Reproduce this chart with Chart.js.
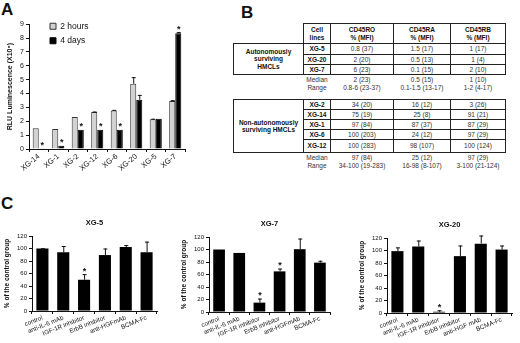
<!DOCTYPE html>
<html>
<head>
<meta charset="utf-8">
<script src="https://cdn.jsdelivr.net/npm/chart.js@4.4.1/dist/chart.umd.min.js"></script>
<style>
  body { margin: 0; background: #fff; font-family: 'Liberation Sans', Arial, sans-serif; }
  #wrap { position: relative; width: 520px; height: 343px; overflow: hidden; }
  canvas { position: absolute; }
  .plabel { position: absolute; font-weight: bold; font-size: 17px; color: #111; }
  .cell { position: absolute; box-sizing: border-box; display: flex; align-items: center; justify-content: center;
          text-align: center; font-size: 6.5px; line-height: 7.5px; color: #333; }
  .bd { border: 1px solid #222; }
  .b { font-weight: bold; color: #111; }
</style>
</head>
<body>
<div id="wrap">
  <div class="plabel" style="left:1px;top:0px">A</div>
  <div class="plabel" style="left:241px;top:3px">B</div>
  <div class="plabel" style="left:1px;top:194px">C</div>
  <canvas id="chartA" width="190" height="168" style="left:0;top:18px"></canvas>
  <canvas id="chartC1" width="160" height="129" style="left:0;top:214px"></canvas>
  <canvas id="chartC2" width="156" height="129" style="left:177px;top:215px"></canvas>
  <canvas id="chartC3" width="160" height="129" style="left:355px;top:216px"></canvas>
  <div id="table"></div>
</div>
<script>
// Panel A data
const catsA = ['XG-14', 'XG-1', 'XG-2', 'XG-12', 'XG-6', 'XG-20', 'XG-5', 'XG-7'];
const hours2 = [1.5, 1.44, 2.3, 2.66, 2.78, 4.7, 2.15, 3.47];
const hours2Err = [0, 0, 0, 0.04, 0.04, 0.48, 0.03, 0.05];
const days4 = [0.01, 0.24, 1.39, 1.39, 1.39, 3.55, 2.18, 8.35];
const days4Err = [0, 0, 0, 0, 0, 0.35, 0, 0.08];
const days4Stars = [1, 1, 1, 1, 1, 0, 0, 1];

// Panel B data
const headCols = ['Cell\nlines', 'CD45RO\n% (MFI)', 'CD45RA\n% (MFI)', 'CD45RB\n% (MFI)'];
const autoGroup = 'Autonomously\nsurviving\nHMCLs';
const autoLines = ['XG-5', 'XG-20', 'XG-7'];
const autoRO = ['0.8 (37)', '2 (20)', '6 (23)'];
const autoRA = ['1.5 (17)', '0.5 (13)', '0.1 (15)'];
const autoRB = ['1 (17)', '1 (4)', '2 (10)'];
const autoMedian = ['2 (23)', '0.5 (15)', '1 (10)'];
const autoRange = ['0.8-6 (23-37)', '0.1-1.5 (13-17)', '1-2 (4-17)'];
const nonGroup = 'Non-autonomously\nsurviving HMCLs';
const nonLines = ['XG-2', 'XG-14', 'XG-1', 'XG-6', 'XG-12'];
const nonRO = ['34 (20)', '75 (19)', '97 (84)', '100 (203)', '100 (283)'];
const nonRA = ['16 (12)', '25 (8)', '87 (37)', '24 (12)', '98 (107)'];
const nonRB = ['3 (26)', '91 (21)', '87 (29)', '97 (29)', '100 (124)'];
const nonMedian = ['97 (84)', '25 (12)', '97 (29)'];
const nonRange = ['34-100 (19-283)', '16-98 (8-107)', '3-100 (21-124)'];

// Panel C data
const treats = ['control', 'anti-IL-6 mAb', 'IGF-1R inhibitor', 'ErbB inhibitor', 'anti-HGFmAb', 'BCMA-Fc'];
const treats20 = ['control', 'anti-IL-6 mAb', 'IGF-1R inhibitor', 'ErbB inhibitor', 'anti-HGF mAb', 'BCMA-Fc'];
const yTicksC = [0, 20, 40, 60, 80, 100, 120];
const xg5Vals = [100, 94, 50, 89.5, 102.5, 94];
const xg5Err = [0.5, 10, 9, 10.5, 3, 17];
const xg5Stars = [0, 0, 1, 0, 0, 0];
const xg7Vals = [100, 94.5, 15, 65, 100.5, 79];
const xg7Err = [0, 0, 6.5, 4.5, 17, 3];
const xg7Stars = [0, 0, 1, 1, 0, 0];
const xg20Vals = [99, 106.5, 2, 91, 111, 101.5];
const xg20Err = [6, 9.5, 2.4, 17, 13, 6.5];
const xg20Stars = [0, 0, 1, 0, 0, 0];

const FONT = "'Liberation Sans', Arial, sans-serif";
Chart.defaults.font.family = FONT;
Chart.defaults.color = '#111';

// error bars (upward only) and significance stars
const errorBars = {
  id: 'errorBars',
  afterDatasetsDraw(chart) {
    const ctx = chart.ctx;
    const y = chart.scales.y;
    chart.data.datasets.forEach((ds, i) => {
      const meta = chart.getDatasetMeta(i);
      meta.data.forEach((bar, j) => {
        const v = ds.data[j];
        const e = ds.errors ? ds.errors[j] : 0;
        const yTop = y.getPixelForValue(v + e);
        ctx.save();
        ctx.strokeStyle = '#111';
        ctx.lineWidth = 1;
        if (e > 0) {
          ctx.beginPath();
          ctx.moveTo(bar.x + 0.5, y.getPixelForValue(v));
          ctx.lineTo(bar.x + 0.5, yTop);
          ctx.moveTo(bar.x - 1.5, yTop + 0.5);
          ctx.lineTo(bar.x + 2.5, yTop + 0.5);
          ctx.stroke();
        }
        if (ds.stars && ds.stars[j]) {
          ctx.fillStyle = '#111';
          ctx.font = 'bold 9px ' + FONT;
          ctx.textAlign = 'center';
          ctx.textBaseline = 'middle';
          ctx.fillText('*', bar.x + 0.5, yTop - 3);
        }
        ctx.restore();
      });
    });
  }
};

// nudge the in-chart legend to where the reference has it
const legendShift = {
  id: 'legendShift',
  afterUpdate(chart, args, opts) {
    const lg = chart.legend;
    if (!lg || !opts.dx) return;
    lg.left += opts.dx; lg.right += opts.dx;
    lg.top += opts.dy; lg.bottom += opts.dy;
    lg.adjustHitBoxes();
  }
};

function axisGrid() {
  return { display: true, drawOnChartArea: false, drawTicks: true, tickLength: 3, color: '#111', lineWidth: 1 };
}

// Panel A
new Chart(document.getElementById('chartA'), {
  type: 'bar',
  data: {
    labels: catsA,
    datasets: [
      { label: '2 hours', data: hours2, errors: hours2Err, backgroundColor: '#d2d2d2', borderColor: '#333', borderWidth: 1,
        categoryPercentage: 0.62, barPercentage: 1 },
      { label: '4 days', data: days4, errors: days4Err, stars: days4Stars, backgroundColor: '#000', borderColor: '#000', borderWidth: 1,
        categoryPercentage: 0.62, barPercentage: 1 }
    ]
  },
  options: {
    responsive: false,
    animation: false,
    layout: { padding: { top: 6, right: 5, left: 0, bottom: 0 } },
    plugins: {
      legend: {
        position: 'chartArea', align: 'start',
        labels: { boxWidth: 6, boxHeight: 6, font: { size: 8.5 }, padding: 6, color: '#111' }
      },
      legendShift: { dx: 15, dy: -2 },
      tooltip: { enabled: false }
    },
    scales: {
      x: {
        grid: axisGrid(),
        border: { color: '#111', width: 1 },
        ticks: { autoSkip: false, minRotation: 40, maxRotation: 40, font: { size: 7.5 }, padding: 0, color: '#111' },
        afterFit(s) { s.height = 37; }
      },
      y: {
        min: 0, max: 9,
        grid: axisGrid(),
        border: { color: '#111', width: 1 },
        ticks: { stepSize: 1, font: { size: 7 }, padding: 2, color: '#111' },
        title: { display: true, text: 'RLU Luminescence (X10\u2076)', font: { size: 7, weight: 'bold' }, padding: { top: 6, bottom: 0 } },
        afterFit(s) { s.width = 29; }
      }
    }
  },
  plugins: [errorBars, legendShift]
});

// Panel C
function makeC(id, title, labels, vals, errs, stars) {
  new Chart(document.getElementById(id), {
    type: 'bar',
    data: {
      labels: labels,
      datasets: [{ data: vals, errors: errs, stars: stars, backgroundColor: '#000', borderColor: '#000',
        categoryPercentage: 0.58, barPercentage: 1 }]
    },
    options: {
      responsive: false,
      animation: false,
      layout: { padding: { top: 0, right: 3, left: 0, bottom: 0 } },
      plugins: {
        legend: { display: false },
        tooltip: { enabled: false },
        title: { display: true, text: title, fullSize: false, font: { size: 7.5, weight: 'bold' }, padding: { top: 4, bottom: 9 }, color: '#111' }
      },
      scales: {
        x: {
          grid: axisGrid(),
          border: { color: '#111', width: 1 },
          ticks: { autoSkip: false, minRotation: 22, maxRotation: 22, font: { size: 6.3 }, padding: 0, color: '#111' },
          afterFit(s) { s.height = 32; }
        },
        y: {
          min: 0, max: 120,
          grid: axisGrid(),
          border: { color: '#111', width: 1 },
          afterBuildTicks(s) { s.ticks = yTicksC.map(v => ({ value: v })); },
          ticks: { font: { size: 6 }, padding: 2, color: '#111' },
          title: { display: true, text: '% of the control group', font: { size: 6.5, weight: 'bold' }, padding: { top: 3, bottom: 0 } },
          afterFit(s) { s.width = 32; }
        }
      }
    },
    plugins: [errorBars]
  });
}
makeC('chartC1', 'XG-5', treats, xg5Vals, xg5Err, xg5Stars);
makeC('chartC2', 'XG-7', treats, xg7Vals, xg7Err, xg7Stars);
makeC('chartC3', 'XG-20', treats20, xg20Vals, xg20Err, xg20Stars);

// Panel B table
const tbl = document.getElementById('table');
const colX = [233, 303, 330, 393, 450, 505];
function cell(x0, x1, y0, y1, text, cls) {
  const d = document.createElement('div');
  d.className = 'cell ' + (cls || '');
  d.style.left = x0 + 'px';
  d.style.top = y0 + 'px';
  d.style.width = (x1 - x0 + 1) + 'px';
  d.style.height = (y1 - y0 + 1) + 'px';
  d.innerHTML = text.split('\n').join('<br>');
  tbl.appendChild(d);
}
function block(rowY, groupText, lines, ro, ra, rb, med, rng, headY) {
  if (headY !== undefined) {
    headCols.forEach((h, k) => cell(colX[k + 1], colX[k + 2], headY, rowY[0], h, 'bd b'));
  }
  cell(colX[0], colX[1], rowY[0], rowY[rowY.length - 1], groupText, 'bd b');
  lines.forEach((ln, r) => {
    const y0 = rowY[r], y1 = rowY[r + 1];
    cell(colX[1], colX[2], y0, y1, ln, 'bd b');
    cell(colX[2], colX[3], y0, y1, ro[r], 'bd');
    cell(colX[3], colX[4], y0, y1, ra[r], 'bd');
    cell(colX[4], colX[5], y0, y1, rb[r], 'bd');
  });
  const yb = rowY[rowY.length - 1] + 2;
  cell(colX[1], colX[2], yb, yb + 14, 'Median\nRange');
  for (let k = 0; k < 3; k++) {
    cell(colX[k + 2], colX[k + 3], yb, yb + 14, med[k] + '\n' + rng[k]);
  }
}
block([43, 53.5, 64, 74], autoGroup, autoLines, autoRO, autoRA, autoRB, autoMedian, autoRange, 23);
block([99, 109, 119.3, 129.3, 139.3, 152], nonGroup, nonLines, nonRO, nonRA, nonRB, nonMedian, nonRange);
</script>
</body>
</html>
